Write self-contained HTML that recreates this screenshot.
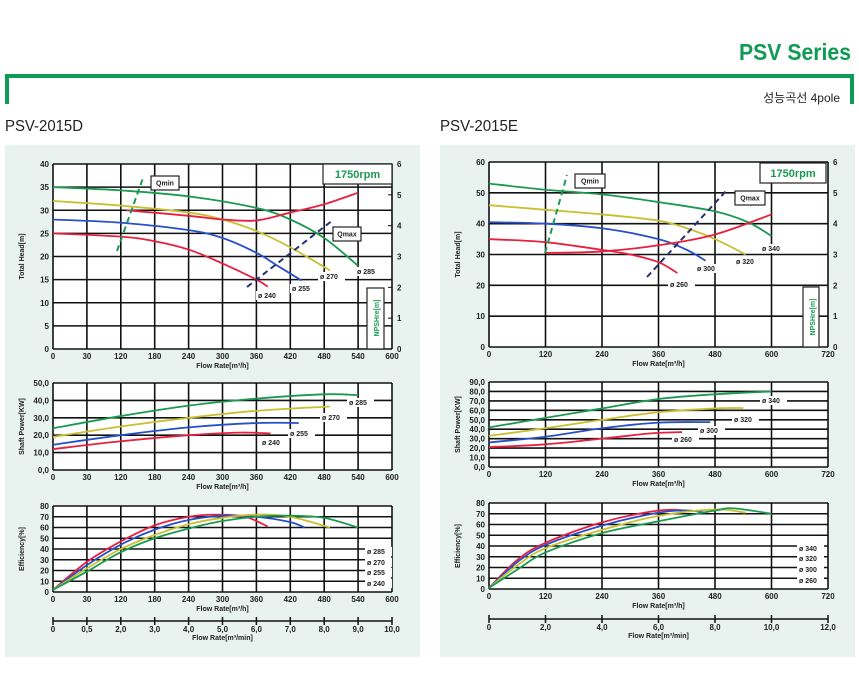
<!DOCTYPE html>
<html><head><meta charset="utf-8"><style>
body{margin:0;background:#fff;}
svg{display:block;font-family:"Liberation Sans","Noto Sans CJK KR",sans-serif;}
</style></head><body>
<svg id="s" width="859" height="679" viewBox="0 0 859 679" xmlns="http://www.w3.org/2000/svg">
<text x="851" y="60" text-anchor="end" font-size="23" font-weight="bold" fill="#0f9a55" textLength="112" lengthAdjust="spacingAndGlyphs">PSV Series</text>
<path d="M7,104 V76 H852 V104" fill="none" stroke="#0f9a55" stroke-width="4"/>
<text x="840" y="102" text-anchor="end" font-size="12" fill="#222">성능곡선 4pole</text>
<text x="5" y="131" font-size="16" fill="#222" textLength="78" lengthAdjust="spacingAndGlyphs">PSV-2015D</text>
<text x="440" y="131" font-size="16" fill="#222" textLength="78" lengthAdjust="spacingAndGlyphs">PSV-2015E</text>
<rect x="5" y="145" width="415" height="512" fill="#e8f2ee"/>
<rect x="440" y="145" width="415" height="512" fill="#e8f2ee"/>
<g id="g"></g>
</svg>
<script>
var G=document.getElementById('g'),NS='http://www.w3.org/2000/svg';
function el(t,a,txt){var e=document.createElementNS(NS,t);for(var k in a)e.setAttribute(k,a[k]);if(txt!=null)e.textContent=txt;G.appendChild(e);return e;}
function tx(x,y,s,o){o=o||{};var a={x:x,y:y,'font-size':o.fs||8,'font-weight':'bold',fill:o.fill||'#222','text-anchor':o.anc||'middle'};if(o.tr)a.transform=o.tr;return el('text',a,s);}
function chart(c){
 var x0=c.x0,x1=c.x1,y0=c.y0,y1=c.y1;
 el('rect',{x:x0,y:y0,width:x1-x0,height:y1-y0,fill:'#fff'});
 var nx=c.xl.length-1,ny=c.yl.length-1;
 for(var i=0;i<=nx;i++){var x=x0+(x1-x0)*i/nx;el('line',{x1:x,y1:y0,x2:x,y2:y1,stroke:'#111','stroke-width':1.6});tx(x,y1+10,c.xl[i]);}
 for(var j=0;j<=ny;j++){var y=y1-(y1-y0)*j/ny;el('line',{x1:x0,y1:y,x2:x1,y2:y,stroke:'#111','stroke-width':1.6});tx(x0-4,y+3,c.yl[j],{anc:'end'});}
 tx((x0+x1)/2,y1+19,'Flow Rate[m³/h]',{fs:7});
 tx(0,0,c.yt,{fs:7,tr:'translate('+(x0-29)+','+((y0+y1)/2)+') rotate(-90)'});
 c.map=function(q,v){return [x0+(x1-x0)*q/c.xmax,y1-(y1-y0)*v/c.ymax];};
 return c;
}
function curve(c,pts,col,w,dash){
 var p=pts.map(function(a){return c.map(a[0],a[1]);});
 var d='M'+p[0][0]+','+p[0][1];
 for(var i=1;i<p.length;i++){var a=p[i-1],b=p[i],pa=p[i-2]||a,pb=p[i+1]||b;
  var c1=[a[0]+(b[0]-pa[0])/6,a[1]+(b[1]-pa[1])/6],c2=[b[0]-(pb[0]-a[0])/6,b[1]-(pb[1]-a[1])/6];
  d+=' C'+c1+' '+c2+' '+b;}
 var o={d:d,fill:'none',stroke:col,'stroke-width':w||1.8};if(dash)o['stroke-dasharray']=dash;el('path',o);
}
function lab(x,y,s){el('rect',{x:x-2,y:y-7,width:s.length*4.6+4,height:9,fill:'#fff'});tx(x,y,s,{anc:'start',fs:7});}
function box(x,y,w,h,s,fs,col){el('rect',{x:x,y:y,width:w,height:h,fill:'#fff',stroke:'#222','stroke-width':1.2});tx(x+w/2,y+h/2+fs*0.35,s,{fs:fs,fill:col||'#222'});}
function line(a,b,c,d,col,dash){el('line',{x1:a,y1:b,x2:c,y2:d,stroke:col,'stroke-width':2,'stroke-dasharray':dash});}
var GR='#1a9a50',YE='#c8c030',BL='#2850c8',RD='#e82040',NV='#283070';

var xl1=['0','30','120','180','240','300','360','420','480','540','600'];
var h=chart({x0:53,x1:392,y0:164,y1:349,xmax:600,ymax:40,xl:xl1,yl:['0','5','10','15','20','25','30','35','40'],yt:'Total Head[m]'});
['0','1','2','3','4','5','6'].forEach(function(s,i){var y=349-185*i/6;el('line',{x1:392,y1:y,x2:388,y2:y,stroke:'#111'});tx(397,y+3,s,{anc:'start'});});
box(323,164,69,20,'1750rpm',11,GR);
curve(h,[[0,35],[120,34.3],[240,33],[360,30.5],[420,28],[480,24],[540,18]],GR);
curve(h,[[0,32],[120,31],[240,29.5],[300,28],[360,25.5],[420,22],[490,17]],YE);
curve(h,[[0,28],[120,27.3],[240,25.7],[300,24],[360,20.8],[400,17.8],[440,14.8]],BL);
curve(h,[[0,25],[120,24.3],[180,23.3],[240,21.5],[300,18.5],[360,15],[380,13.5]],RD);
curve(h,[[130,30],[240,28.8],[300,28],[360,27.8],[420,29.5],[480,31.3],[540,33.8]],RD);
line(117,251,143,178,GR,'6,4');line(247,287,333,220,NV,'6,4');
box(151,176,28,14,'Qmin',7);box(333,227,28,14,'Qmax',7);
lab(258,298,'ø 240');lab(292,291,'ø 255');lab(320,279,'ø 270');lab(357,274,'ø 285');
el('rect',{x:367,y:288,width:17,height:61,fill:'#fff',stroke:'#222','stroke-width':1.2});
tx(0,0,'NPSHre[m]',{fs:7,fill:GR,tr:'translate(379,318) rotate(-90)'});

var p=chart({x0:53,x1:392,y0:383,y1:470,xmax:600,ymax:50,xl:xl1,yl:['0,0','10,0','20,0','30,0','40,0','50,0'],yt:'Shaft Power[KW]'});
curve(p,[[0,24],[120,31],[240,37],[360,41],[480,43.5],[540,43]],GR);
curve(p,[[0,19],[120,25],[240,30],[360,34],[490,36.5]],YE);
curve(p,[[0,14.5],[120,20],[240,24.5],[360,27],[435,27]],BL);
curve(p,[[0,12],[120,16.5],[240,20],[330,21.5],[385,21]],RD);
lab(349,405,'ø 285');lab(322,420,'ø 270');lab(290,436,'ø 255');lab(262,445,'ø 240');

var e=chart({x0:53,x1:392,y0:506,y1:592,xmax:600,ymax:80,xl:xl1,yl:['0','10','20','30','40','50','60','70','80'],yt:'Efficiency[%]'});
curve(e,[[0,2],[60,28],[120,47],[180,62],[240,70],[290,72],[340,70],[380,61]],RD);
curve(e,[[0,2],[60,25],[120,44],[180,58],[240,67],[300,71],[360,70],[420,65],[445,60]],BL);
curve(e,[[0,2],[60,22],[120,40],[180,53],[240,63],[300,69],[360,72],[420,70],[490,60]],YE);
curve(e,[[0,2],[60,19],[120,37],[180,50],[240,59],[300,66],[360,70],[420,71],[480,69],[540,60]],GR);
lab(367,554,'ø 285');lab(367,565,'ø 270');lab(367,575,'ø 255');lab(367,586,'ø 240');
function ax2(x0,x1,y,ls){el('line',{x1:x0,y1:y,x2:x1,y2:y,stroke:'#111','stroke-width':1.5});var n=ls.length-1;ls.forEach(function(s,i){var x=x0+(x1-x0)*i/n;el('line',{x1:x,y1:y-4,x2:x,y2:y+4,stroke:'#111','stroke-width':1.5});tx(x,y+11,s);});tx((x0+x1)/2,y+19,'Flow Rate[m³/min]',{fs:7});}
ax2(53,392,621,['0','0,5','2,0','3,0','4,0','5,0','6,0','7,0','8,0','9,0','10,0']);

var xl2=['0','120','240','360','480','600','720'];
var H=chart({x0:489,x1:828,y0:162,y1:347,xmax:720,ymax:60,xl:xl2,yl:['0','10','20','30','40','50','60'],yt:'Total Head[m]'});
['0','1','2','3','4','5','6'].forEach(function(s,i){var y=347-185*i/6;el('line',{x1:828,y1:y,x2:824,y2:y,stroke:'#111'});tx(833,y+3,s,{anc:'start'});});
box(760,163,66,20,'1750rpm',11,GR);
curve(H,[[0,53],[120,51],[240,49.5],[360,47],[480,44],[550,40.5],[600,36]],GR);
curve(H,[[0,46],[120,44.5],[240,43],[360,41],[420,38.5],[480,35],[545,30]],YE);
curve(H,[[0,40.5],[120,40],[240,38.5],[360,35],[420,31.5],[460,28]],BL);
curve(H,[[0,35],[120,34],[240,31.5],[300,30],[360,27.5],[400,24]],RD);
curve(H,[[120,30.5],[240,31],[360,33],[480,36.5],[600,43]],RD);
line(545,253,567,175,GR,'6,4');line(647,277,727,190,NV,'6,4');
box(575,174,30,14,'Qmin',7);box(735,191,30,14,'Qmax',7);
lab(670,287,'ø 260');lab(697,271,'ø 300');lab(736,264,'ø 320');lab(762,251,'ø 340');
el('rect',{x:803,y:287,width:16,height:60,fill:'#fff',stroke:'#222','stroke-width':1.2});
tx(0,0,'NPSHre[m]',{fs:7,fill:GR,tr:'translate(815,317) rotate(-90)'});

var P=chart({x0:489,x1:828,y0:382,y1:467,xmax:720,ymax:90,xl:xl2,yl:['0,0','10,0','20,0','30,0','40,0','50,0','60,0','70,0','80,0','90,0'],yt:'Shaft Power[KW]'});
curve(P,[[0,42],[120,52],[240,62],[360,72],[480,77],[600,80]],GR);
curve(P,[[0,33],[120,41],[240,50],[360,58],[480,62],[540,62.5]],YE);
curve(P,[[0,26],[120,32],[240,41],[360,47],[470,47.5]],BL);
curve(P,[[0,21],[120,24],[240,30],[340,35.5],[410,37]],RD);
lab(762,403,'ø 340');lab(734,422,'ø 320');lab(700,433,'ø 300');lab(674,442,'ø 260');

var E=chart({x0:489,x1:828,y0:503,y1:589,xmax:720,ymax:80,xl:xl2,yl:['0','10','20','30','40','50','60','70','80'],yt:'Efficiency[%]'});
curve(E,[[0,1],[60,27],[120,43],[240,62],[360,73],[420,73]],RD);
curve(E,[[0,1],[60,25],[120,41],[240,59],[360,71],[420,73],[460,71]],BL);
curve(E,[[0,1],[60,22],[120,38],[240,55],[360,68],[480,74],[545,71]],YE);
curve(E,[[0,1],[60,18],[120,34],[240,52],[360,63],[480,73],[520,75],[600,70]],GR);
lab(799,551,'ø 340');lab(799,561,'ø 320');lab(799,572,'ø 300');lab(799,583,'ø 260');
ax2(489,828,619,['0','2,0','4,0','6,0','8,0','10,0','12,0']);
</script>
</body></html>
